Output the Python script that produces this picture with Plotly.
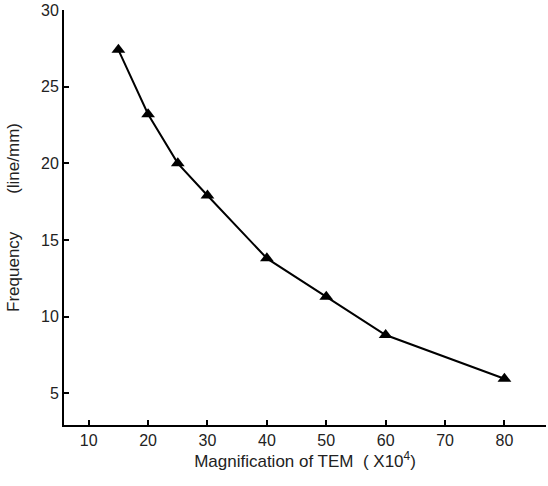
import plotly.graph_objects as go

magnification = [15, 20, 25, 30, 40, 50, 60, 80]
frequency = [27.4, 23.2, 20.0, 17.9, 13.8, 11.3, 8.8, 5.95]
x_ticks = [10, 20, 30, 40, 50, 60, 70, 80]
y_ticks = [5, 10, 15, 20, 25, 30]

FONT = dict(family="Liberation Sans, Arial", size=17, color="#222")
TICKFONT = dict(family="Liberation Sans, Arial", size=16, color="#222")

fig = go.Figure(go.Scatter(
    x=magnification, y=frequency, mode="lines+markers",
    line=dict(color="black", width=2),
    marker=dict(symbol="triangle-up", size=12, color="black"),
    showlegend=False, cliponaxis=False,
))

axis_common = dict(
    showgrid=False, zeroline=False, showline=True, linecolor="black", linewidth=2,
    ticks="inside", ticklen=5, tickwidth=2, tickcolor="black",
    tickfont=TICKFONT,
    mirror=False, automargin=False, ticklabeloverflow="allow",
)

NB = "\u00a0"
fig.update_layout(
    width=548, height=486,
    margin=dict(l=64, r=2, t=10, b=61),
    paper_bgcolor="white", plot_bgcolor="white",
    xaxis=dict(range=[5.84, 87.0], tickvals=x_ticks,
               title=dict(text=NB * 4 + "Magnification of TEM" + NB * 2 + "( X10<sup>4</sup>)",
                          font=FONT, standoff=3),
               **axis_common),
    yaxis=dict(range=[2.93, 30], tickvals=y_ticks,
               title=dict(text="Frequency" + NB * 8 + "(line/mm)",
                          font=FONT, standoff=17),
               **axis_common),
)

fig.write_html(
    "out.html",
    config={"displayModeBar": False},
    post_script="document.body.style.margin='0';document.body.style.overflow='hidden';",
)
